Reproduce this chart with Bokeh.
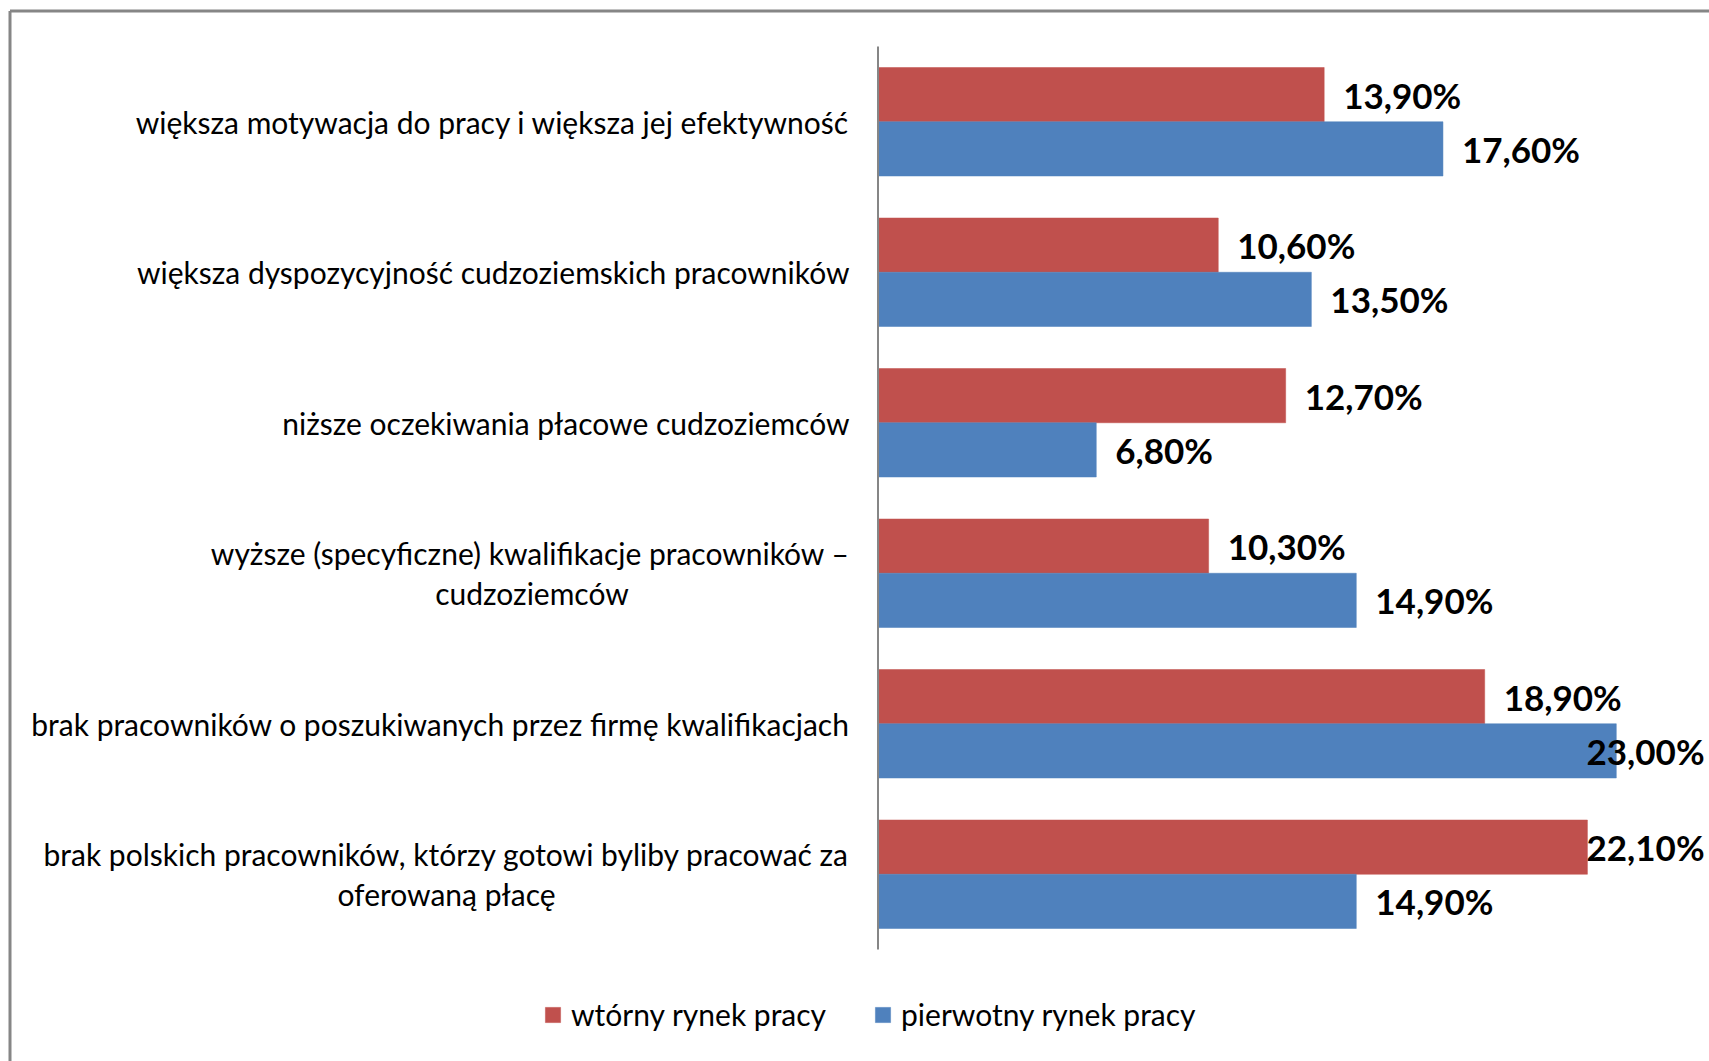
import numpy as np
from bokeh.plotting import figure
from bokeh.models import ColumnDataSource, Range1d, Legend, LegendItem
from bokeh.core.properties import value
from bokeh.embed import file_html
from bokeh.resources import INLINE

# ---- data (top to bottom) ----
categories = [
    "większa motywacja do pracy i większa jej efektywność",
    "większa dyspozycyjność cudzoziemskich pracowników",
    "niższe oczekiwania płacowe cudzoziemców",
    "wyższe (specyficzne) kwalifikacje pracowników –\ncudzoziemców",
    "brak pracowników o poszukiwanych przez firmę kwalifikacjach",
    "brak polskich pracowników, którzy gotowi byliby pracować za\noferowaną płacę",
]
wtorny = [13.9, 10.6, 12.7, 10.3, 18.9, 22.1]      # wtórny rynek pracy (red)
pierwotny = [17.6, 13.5, 6.8, 14.9, 23.0, 14.9]    # pierwotny rynek pracy (blue)
series_names = ["wtórny rynek pracy", "pierwotny rynek pracy"]

RED = "#C0504D"
BLUE = "#4F81BD"
GRAY = "#868686"

# ---- layout (pixels) ----
W, H = 1709, 1061
PX_PER_PCT = 32.1
AXIS_PX = 877.5          # x of the value 0 within the figure
PITCH = 150.5            # px per category
TOP_PX = 46.0            # top of the category axis within figure

x0 = -AXIS_PX / PX_PER_PCT
x1 = (W - AXIS_PX) / PX_PER_PCT
n = len(categories)
y_top = n + TOP_PX / PITCH
y_bot = n - (H - TOP_PX) / PITCH

def xd(px):   # figure px -> data x
    return (px - AXIS_PX) / PX_PER_PCT

def yd(py):   # figure px (from top) -> data y
    return n - (py - TOP_PX) / PITCH

p = figure(width=W, height=H, output_backend="svg", toolbar_location=None,
           x_range=Range1d(x0, x1), y_range=Range1d(y_bot, y_top),
           min_border=0, title=None)
p.axis.visible = False
p.grid.visible = False
p.outline_line_color = None
p.background_fill_color = "white"
p.border_fill_color = "white"

centers = (n - 0.5) - np.arange(n)
half = 54.25 / PITCH

src = ColumnDataSource(dict(
    y_red=centers + half / 2, y_blue=centers - half / 2,
    red=wtorny, blue=pierwotny,
    red_lab=[f"{v:.2f}%".replace(".", ",") for v in wtorny],
    blue_lab=[f"{v:.2f}%".replace(".", ",") for v in pierwotny],
    red_lx=np.minimum(np.array(wtorny) + 19 / PX_PER_PCT, xd(1586)),
    blue_lx=np.minimum(np.array(pierwotny) + 19 / PX_PER_PCT, xd(1586)),
))

r_red = p.hbar(y="y_red", left=0, right="red", height=half, source=src,
               fill_color=RED, line_color=RED, line_width=0.5)
r_blue = p.hbar(y="y_blue", left=0, right="blue", height=half, source=src,
                fill_color=BLUE, line_color=BLUE, line_width=0.5)

# vertical category axis line
p.segment(x0=[0], y0=[0], x1=[0], y1=[n], line_color=GRAY, line_width=2)

# outer chart border (left and top, the rest lies outside the window)
p.segment(x0=[xd(9.5), xd(9.5)], y0=[y_bot, yd(10.5)],
          x1=[xd(9.5), x1], y1=[yd(10.5), yd(10.5)],
          line_color=GRAY, line_width=3)

# value labels
label_style = dict(text_font=value("Lato"), text_font_style="bold",
                   text_font_size="35px", text_baseline="middle",
                   text_align="left", text_color="black")
p.text(x="red_lx", y="y_red", text="red_lab", source=src, **label_style)
p.text(x="blue_lx", y="y_blue", text="blue_lab", source=src, **label_style)

# category labels
right_x = xd(849)
second_line_center_px = {3: 531.5, 5: 446.0}
l1x, l1y, l1t = [], [], []
l2x, l2y, l2t = [], [], []
for i, c in enumerate(categories):
    parts = c.split("\n")
    if len(parts) == 1:
        l1x.append(right_x); l1y.append(centers[i]); l1t.append(c)
    else:
        l1x.append(right_x); l1y.append(centers[i] + 20 / PITCH); l1t.append(parts[0])
        l2x.append(xd(second_line_center_px[i])); l2y.append(centers[i] - 20 / PITCH); l2t.append(parts[1])
p.text(x=l1x, y=l1y, text=l1t, text_font=value("Lato"), text_font_size="30px",
       text_baseline="middle", text_align="right", text_color="black")
p.text(x=l2x, y=l2y, text=l2t, text_font=value("Lato"), text_font_size="30px",
       text_baseline="middle", text_align="center", text_color="black")

legend = Legend(items=[LegendItem(label=series_names[0], renderers=[r_red]),
                       LegendItem(label=series_names[1], renderers=[r_blue])],
                orientation="horizontal", location=(543, 29),
                glyph_width=19, glyph_height=19, label_standoff=9, spacing=47,
                padding=0, margin=0, border_line_color=None,
                background_fill_alpha=0,
                label_text_font="Lato", label_text_font_size="30px",
                label_text_color="black")
p.add_layout(legend)

open("out.html", "w").write(file_html(p, INLINE))
